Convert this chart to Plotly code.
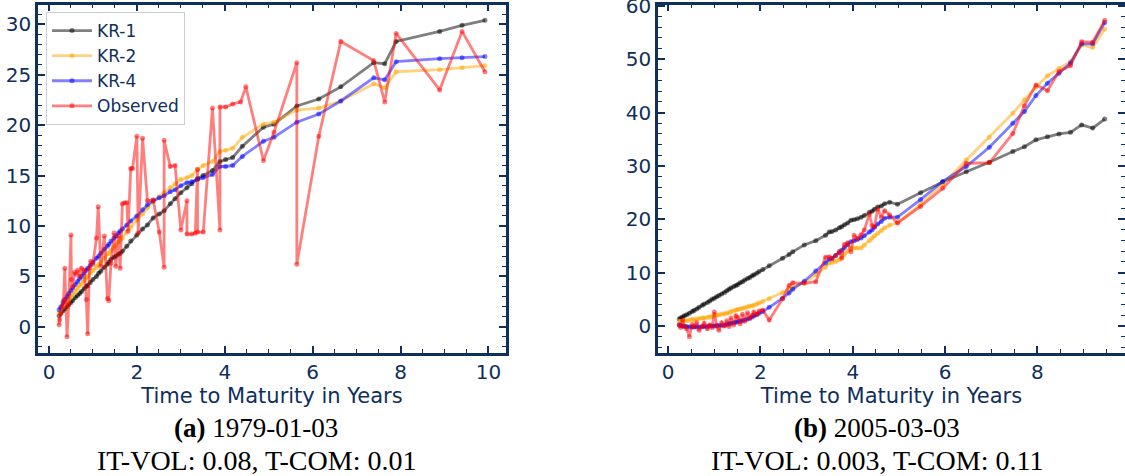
import plotly.graph_objects as go

# ---------------- data: panel (a) 1979-01-03 ----------------
maturity_a = [0.23,0.27,0.32,0.36,0.41,0.45,0.50,0.54,0.60,0.65,
              0.70,0.74,0.80,0.85,0.88,0.94,1.00,1.08,1.13,1.18,
              1.26,1.33,1.36,1.41,1.48,1.52,1.58,1.62,1.67,1.77,
              1.86,2.00,2.13,2.24,2.37,2.51,2.62,2.76,2.87,3.00,
              3.14,3.25,3.38,3.51,3.72,3.89,4.02,4.18,4.40,4.88,
              5.12,5.64,6.14,6.64,7.39,7.64,7.90,8.89,9.40,9.92]
kr1_a = [1.1,1.4,1.6,1.8,2.0,2.2,2.4,2.6,2.9,3.1,
         3.3,3.5,3.8,4.0,4.1,4.4,4.7,5.0,5.3,5.5,
         5.9,6.2,6.4,6.7,6.9,7.0,7.2,7.3,7.5,8.0,
         8.5,9.1,9.7,10.1,10.8,11.2,11.5,12.2,12.7,13.3,
         13.8,14.2,14.7,15.0,15.5,16.4,16.6,16.8,17.9,19.8,
         20.1,21.9,22.6,23.8,26.2,26.1,28.3,29.3,29.9,30.4]
kr2_a = [1.4,1.7,2.0,2.3,2.5,2.7,3.0,3.2,3.5,3.8,
         4.1,4.3,4.6,4.9,5.0,5.3,5.6,5.9,6.2,6.4,
         6.8,7.2,7.3,7.6,7.9,8.1,8.4,8.6,8.8,9.4,
         9.9,10.6,11.2,11.8,12.4,12.9,13.3,13.8,14.2,14.6,
         14.8,15.0,15.6,16.0,16.4,17.4,17.5,17.7,18.8,20.1,
         20.3,21.5,21.7,22.4,24.1,23.7,25.3,25.5,25.7,25.9]
kr4_a = [1.7,2.0,2.4,2.7,3.0,3.3,3.6,3.9,4.2,4.5,
         4.8,5.0,5.3,5.6,5.8,6.1,6.4,6.8,7.0,7.3,
         7.7,8.0,8.2,8.5,8.8,9.0,9.3,9.5,9.7,10.1,
         10.5,11.0,11.6,12.1,12.5,12.8,13.0,13.4,13.6,14.0,
         14.3,14.4,14.6,14.8,15.1,15.9,15.9,16.0,16.9,18.4,
         18.8,20.3,21.1,22.4,24.7,24.5,26.3,26.6,26.7,26.8]
obs_x_a = [0.23,0.24,0.27,0.30,0.33,0.36,0.41,0.45,0.50,0.51,
           0.54,0.58,0.62,0.65,0.70,0.74,0.80,0.85,0.88,0.92,
           0.95,1.00,1.08,1.12,1.18,1.26,1.33,1.36,1.41,1.48,
           1.52,1.58,1.62,1.67,1.72,1.77,1.80,1.86,1.90,2.00,
           2.03,2.13,2.24,2.37,2.51,2.62,2.62,2.76,2.87,3.00,
           3.14,3.14,3.25,3.33,3.38,3.38,3.51,3.72,3.89,3.89,
           4.02,4.18,4.36,4.48,4.88,5.12,5.64,5.64,6.14,6.64,
           7.39,7.64,7.90,8.89,9.40,9.92]
obs_y_a = [0.2,0.7,1.3,2.0,2.6,5.8,-1.0,2.2,9.1,4.7,
           4.0,5.4,5.2,5.6,5.0,5.8,5.6,2.7,-0.7,5.8,
           6.5,6.2,8.8,11.9,6.0,9.0,2.8,2.6,6.3,9.3,
           6.0,9.0,5.8,12.2,12.3,12.3,9.5,15.7,15.7,18.9,
           9.3,18.7,12.5,12.6,9.4,5.9,18.5,15.9,16.0,9.6,
           12.5,9.2,9.2,9.3,15.6,9.4,9.4,21.7,9.6,21.8,
           21.8,22.1,22.3,23.8,16.5,19.3,26.2,6.2,18.9,28.3,
           26.4,22.3,29.1,23.5,29.3,25.3]

# ---------------- data: panel (b) 2005-03-03 ----------------
maturity_b = [0.24,0.27,0.31,0.35,0.40,0.46,0.52,0.56,0.62,0.67,
              0.74,0.78,0.85,0.90,0.95,1.00,1.05,1.10,1.16,1.22,
              1.27,1.32,1.36,1.42,1.47,1.51,1.56,1.61,1.66,1.72,
              1.77,1.82,1.86,1.92,1.97,2.05,2.19,2.48,2.62,2.70,
              2.95,3.20,3.41,3.49,3.55,3.63,3.71,3.76,3.82,3.89,
              3.96,4.03,4.10,4.18,4.25,4.36,4.42,4.47,4.54,4.62,
              4.69,4.80,4.97,5.47,5.95,6.46,6.96,7.47,7.72,7.97,
              8.22,8.47,8.72,8.96,9.20,9.46]
kr1_b = [1.3,1.5,1.7,1.9,2.1,2.4,2.7,2.9,3.2,3.5,
         3.9,4.1,4.4,4.7,5.0,5.2,5.5,5.7,6.0,6.3,
         6.6,6.9,7.1,7.4,7.6,7.8,8.1,8.3,8.6,8.9,
         9.1,9.4,9.6,9.9,10.2,10.6,11.3,12.7,13.4,13.9,
         15.2,16.0,17.0,17.6,17.7,18.0,18.4,18.6,19.0,19.3,
         19.8,19.9,20.1,20.4,20.7,21.3,21.5,21.9,22.3,22.5,
         22.9,23.2,22.8,25.0,27.0,28.9,30.7,32.7,33.6,34.9,
         35.5,36.0,36.3,37.7,37.1,38.8]
kr2_b = [0.8,0.9,0.9,1.0,1.0,1.1,1.2,1.2,1.3,1.4,
         1.5,1.5,1.6,1.7,1.8,1.9,2.0,2.1,2.2,2.3,
         2.4,2.5,2.7,2.8,3.0,3.1,3.2,3.3,3.4,3.6,
         3.7,3.8,3.9,4.1,4.3,4.6,5.1,6.3,6.9,7.3,
         8.1,9.6,11.0,11.8,11.9,12.1,12.4,12.9,13.4,14.0,
         14.6,14.6,14.6,14.6,15.2,16.0,16.5,16.9,17.4,17.9,
         18.4,18.9,19.4,22.8,26.6,31.1,35.4,39.9,42.4,44.8,
         46.9,48.3,49.6,52.7,52.2,55.7]
kr4_b = [0.2,0.1,0.0,-0.1,-0.1,-0.2,-0.2,-0.2,-0.2,-0.2,
         -0.1,-0.1,-0.1,0.0,0.0,0.0,0.1,0.1,0.1,0.2,
         0.3,0.4,0.5,0.6,0.7,0.8,0.9,1.0,1.1,1.3,
         1.5,1.7,1.9,2.1,2.4,2.7,3.5,5.2,6.2,6.9,
         8.4,10.3,11.8,12.5,12.7,13.2,13.8,14.2,14.7,15.3,
         15.8,16.0,16.2,16.5,16.9,17.6,18.0,18.5,19.1,19.6,
         20.2,20.4,20.4,23.7,27.1,29.9,33.5,38.0,40.2,43.2,
         45.5,47.4,49.3,52.9,52.9,56.9]
obs_b = [0.2,-0.3,1.1,0.0,-0.5,-2.0,0.3,-0.1,0.6,-0.8,
         -0.1,0.5,-0.5,0.2,-0.3,2.6,0.0,-0.8,0.6,0.0,
         1.0,-0.1,1.5,0.2,1.9,1.6,0.4,2.2,0.9,2.5,
         1.4,2.0,2.6,2.2,2.8,3.0,1.1,5.1,7.6,8.1,
         8.0,8.3,12.9,13.0,12.6,13.2,14.0,12.7,15.3,15.6,
         13.9,17.0,16.4,17.1,18.0,20.9,18.8,18.6,21.9,20.4,
         21.6,20.8,19.3,22.4,25.8,30.5,30.6,36.1,41.3,45.2,
         44.1,47.7,48.8,53.3,53.2,57.3]

series_names = ["KR-1", "KR-2", "KR-4", "Observed"]
series_colors = ["rgba(0,0,0,0.5)", "rgba(255,165,0,0.5)",
                 "rgba(0,0,255,0.5)", "rgba(255,0,0,0.5)"]
x_title = "Time to Maturity in Years"
captions = [("<b>(a)</b> 1979-01-03", "IT-VOL: 0.08, T-COM: 0.01"),
            ("<b>(b)</b> 2005-03-03", "IT-VOL: 0.003, T-COM: 0.11")]

W, H = 1125, 476
NAVY = "#0f2f5c"

fig = go.Figure()

panel_a = [(maturity_a, kr1_a), (maturity_a, kr2_a), (maturity_a, kr4_a), (obs_x_a, obs_y_a)]
panel_b = [(maturity_b, kr1_b), (maturity_b, kr2_b), (maturity_b, kr4_b), (maturity_b, obs_b)]

for i, (xs, ys) in enumerate(panel_a):
    fig.add_trace(go.Scatter(
        x=xs, y=ys, mode="lines+markers", name=series_names[i],
        line=dict(color=series_colors[i], width=2.8),
        marker=dict(color=series_colors[i], size=5),
        xaxis="x", yaxis="y"))
for i, (xs, ys) in enumerate(panel_b):
    fig.add_trace(go.Scatter(
        x=xs, y=ys, mode="lines+markers", name=series_names[i],
        showlegend=False,
        line=dict(color=series_colors[i], width=2.8),
        marker=dict(color=series_colors[i], size=5),
        xaxis="x2", yaxis="y2"))


def ax(domain, rng, dtick, minor_dtick, anchor, title=None):
    d = dict(
        domain=domain, range=rng, anchor=anchor, automargin=False,
        showline=True, linecolor=NAVY, linewidth=2.5, mirror="allticks",
        ticks="inside", ticklen=7, tickwidth=1.5, tickcolor=NAVY,
        tickfont=dict(family="DejaVu Sans", size=20, color=NAVY),
        ticklabeloverflow="allow",
        showgrid=False, zeroline=False, dtick=dtick, tick0=0,
        minor=dict(ticks="inside", ticklen=4, tickwidth=1.2, tickcolor=NAVY,
                   dtick=minor_dtick, tick0=0, showgrid=False),
    )
    if title:
        d["title"] = dict(text=title, font=dict(family="DejaVu Sans", size=21, color=NAVY),
                          standoff=2)
    return d

ydom = [1 - 352.5 / H, 1 - 4.5 / H]
fig.update_layout(
    width=W, height=H,
    margin=dict(l=0, r=0, t=0, b=0, autoexpand=False),
    paper_bgcolor="white", plot_bgcolor="white",
    xaxis=ax([38 / W, 506 / W], [-0.25, 10.4], 2, 0.5, "y", x_title),
    yaxis=ax(ydom, [-2.55, 31.97], 5, 1, "x"),
    xaxis2=ax([658 / W, 1.0], [-0.22, 9.9], 2, 0.5, "y2", x_title),
    yaxis2=ax(ydom, [-4.97, 60.27], 10, 2, "x2"),
    showlegend=True,
    legend=dict(x=46 / W, y=1 - 12 / H, xanchor="left", yanchor="top",
                bgcolor="white", bordercolor="#c8cfd8", borderwidth=1,
                font=dict(family="DejaVu Sans", size=17, color=NAVY),
                itemwidth=40),
)

cap_x = [256 / W, 877 / W]
for j, (l1, l2) in enumerate(captions):
    fig.add_annotation(x=cap_x[j], y=1 - 428 / H, xref="paper", yref="paper",
                       text=l1, showarrow=False, xanchor="center", yanchor="middle",
                       font=dict(family="Liberation Serif", size=27, color="black"))
    fig.add_annotation(x=cap_x[j], y=1 - 460 / H, xref="paper", yref="paper",
                       text=l2, showarrow=False, xanchor="center", yanchor="middle",
                       font=dict(family="Liberation Serif", size=28, color="black"))

fig.write_html(
    "out.html",
    config={"displayModeBar": False},
    post_script="document.body.style.margin='0';document.body.style.overflow='hidden';",
)
